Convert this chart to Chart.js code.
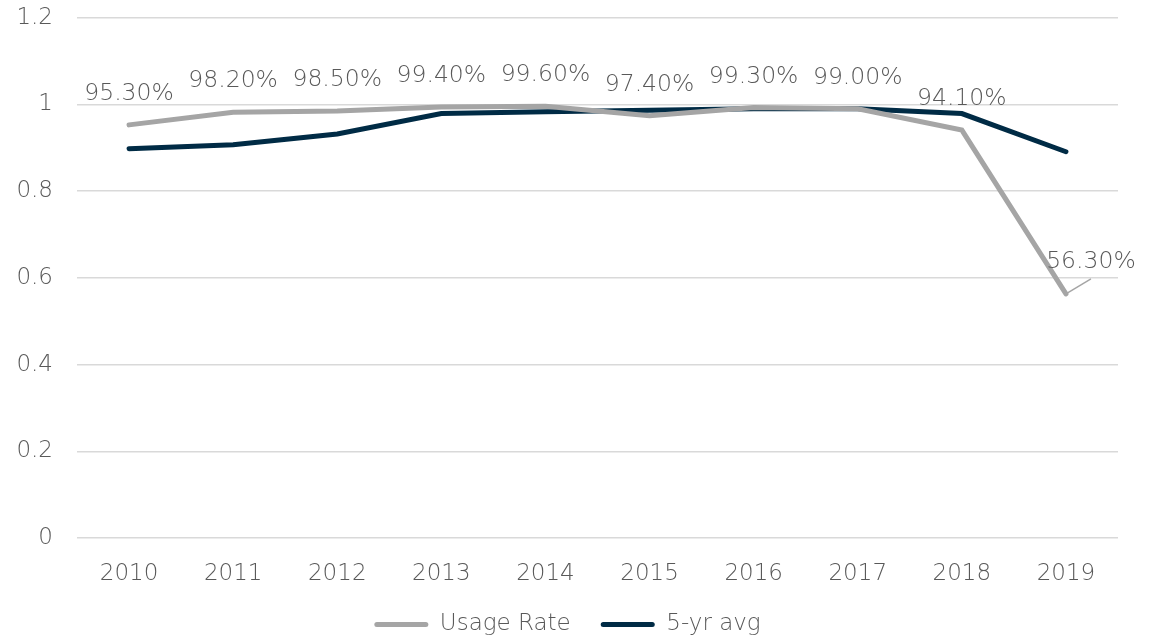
<!DOCTYPE html>
<html>
<head>
<meta charset="utf-8">
<script src="https://cdn.jsdelivr.net/npm/chart.js@4"></script>
<style>
  html, body { margin: 0; padding: 0; background: #fff; }
  #wrap { width: 1158px; height: 639px; }
</style>
</head>
<body>
<div id="wrap"><canvas id="usageChart"></canvas></div>
<script>
const years = ['2010', '2011', '2012', '2013', '2014', '2015', '2016', '2017', '2018', '2019'];
const usageRate = [0.953, 0.982, 0.985, 0.994, 0.996, 0.974, 0.993, 0.990, 0.941, 0.563];
const fiveYrAvg = [0.898, 0.907, 0.932, 0.979, 0.983, 0.987, 0.990, 0.990, 0.979, 0.891];
const yTicks = [0, 0.2, 0.4, 0.6, 0.8, 1, 1.2];

const FONT = '"DejaVu Sans", sans-serif';
const TEXT = '#595959';

// percent labels over the usage line, last one pushed right with a leader line
const valueLabels = {
  id: 'valueLabels',
  afterDatasetsDraw(chart) {
    const ctx = chart.ctx;
    const meta = chart.getDatasetMeta(0);
    ctx.save();
    ctx.font = '200 23.5px ' + FONT;
    ctx.fillStyle = TEXT;
    ctx.textAlign = 'center';
    ctx.textBaseline = 'middle';
    meta.data.forEach((pt, i) => {
      const txt = (usageRate[i] * 100).toFixed(2) + '%';
      if (i === meta.data.length - 1) {
        ctx.strokeStyle = '#a5a5a5';
        ctx.lineWidth = 1.5;
        ctx.beginPath();
        ctx.moveTo(pt.x, pt.y);
        ctx.lineTo(pt.x + 25, pt.y - 15);
        ctx.stroke();
        ctx.fillText(txt, pt.x + 25, pt.y - 32);
      } else {
        ctx.fillText(txt, pt.x, pt.y - 31);
      }
    });
    ctx.restore();
  }
};

new Chart(document.getElementById('usageChart'), {
  type: 'line',
  data: {
    labels: years,
    datasets: [{
      label: 'Usage Rate',
      data: usageRate,
      borderColor: '#a5a5a5',
      backgroundColor: '#a5a5a5',
      borderWidth: 5,
      pointRadius: 0,
      borderCapStyle: 'round',
      tension: 0
    }, {
      label: '5-yr avg',
      data: fiveYrAvg,
      borderColor: '#002b45',
      backgroundColor: '#002b45',
      borderWidth: 5,
      pointRadius: 0,
      borderCapStyle: 'round',
      tension: 0
    }]
  },
  options: {
    responsive: true,
    maintainAspectRatio: false,
    animation: false,
    layout: { padding: { top: 0, right: 40, left: 17, bottom: -7 } },
    scales: {
      x: {
        offset: true,
        grid: { display: false },
        border: { display: false },
        ticks: { color: TEXT, font: { family: FONT, size: 23, weight: 200 }, padding: 14 },
        afterFit(scale) { scale.height = 45; }
      },
      y: {
        min: 0,
        max: 1.2,
        afterBuildTicks(axis) { axis.ticks = yTicks.map(v => ({ value: v })); },
        grid: { color: '#d9d9d9', lineWidth: 1.5, drawTicks: true, tickLength: 20, tickColor: 'rgba(0,0,0,0)' },
        border: { display: false },
        ticks: {
          color: TEXT,
          font: { family: FONT, size: 23, weight: 200 },
          padding: 4,
          callback: v => String(+v.toFixed(1))
        },
        afterFit(scale) { scale.width = 60; }
      }
    },
    plugins: {
      legend: {
        position: 'bottom',
        labels: {
          color: TEXT,
          font: { family: FONT, size: 23, weight: 200 },
          boxWidth: 54,
          boxHeight: 5,
          useBorderRadius: true,
          borderRadius: 2.5,
          padding: 30,
          generateLabels: chart => Chart.defaults.plugins.legend.labels.generateLabels(chart)
            .map(item => Object.assign(item, { strokeStyle: 'rgba(0,0,0,0)', lineWidth: 0 }))
        }
      },
      tooltip: { enabled: false }
    }
  },
  plugins: [valueLabels]
});
</script>
</body>
</html>
